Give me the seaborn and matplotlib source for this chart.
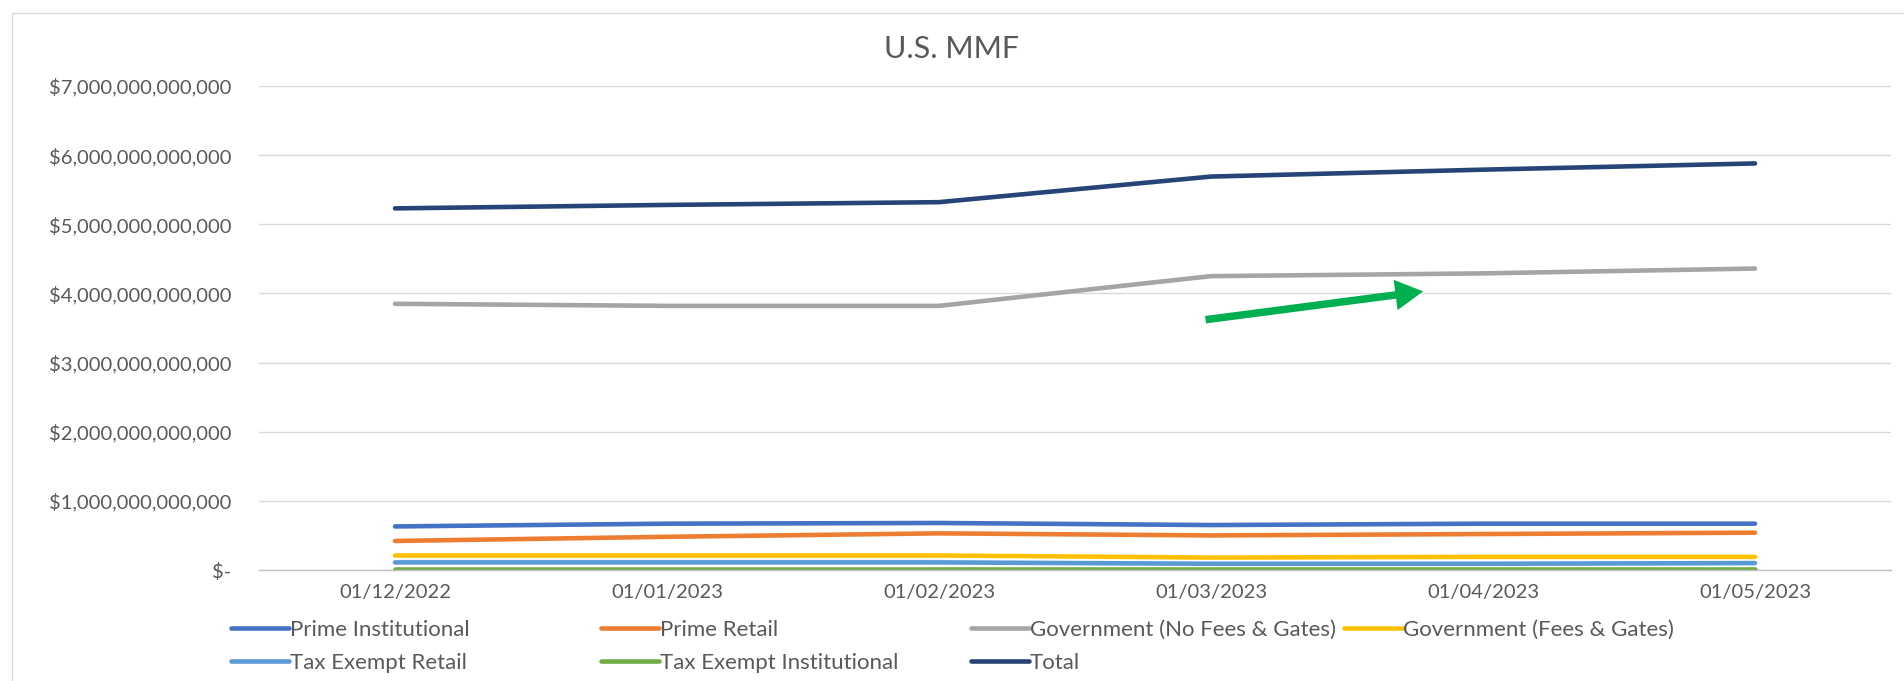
import numpy as np
import pandas as pd
import matplotlib
matplotlib.use("Agg")
import matplotlib.pyplot as plt
from matplotlib.lines import Line2D
from matplotlib.patches import Rectangle
from matplotlib.ticker import FixedLocator, FuncFormatter
import seaborn as sns

dates = ["01/12/2022", "01/01/2023", "01/02/2023", "01/03/2023", "01/04/2023", "01/05/2023"]

# assets in trillions of dollars
prime_inst = [0.63, 0.67, 0.68, 0.65, 0.67, 0.67]
prime_retail = [0.42, 0.48, 0.53, 0.50, 0.52, 0.54]
gov_no_fees = [3.85, 3.82, 3.82, 4.25, 4.29, 4.36]
gov_fees = [0.21, 0.21, 0.21, 0.18, 0.19, 0.19]
tax_ex_retail = [0.11, 0.11, 0.11, 0.09, 0.09, 0.10]
tax_ex_inst = [0.02, 0.02, 0.02, 0.02, 0.02, 0.02]
total = [5.23, 5.28, 5.32, 5.69, 5.79, 5.88]

series_names = ["Prime Institutional", "Prime Retail", "Government (No Fees & Gates)",
                "Government (Fees & Gates)", "Tax Exempt Retail", "Tax Exempt Institutional", "Total"]
series_vals = [prime_inst, prime_retail, gov_no_fees, gov_fees, tax_ex_retail, tax_ex_inst, total]
colors = ["#4472C4", "#ED7D31", "#A5A5A5", "#FFC000", "#5B9BD5", "#70AD47", "#264478"]

# long form table for seaborn
rows = []
for name, vals in zip(series_names, series_vals):
    for i, v in enumerate(vals):
        rows.append({"series": name, "pos": i, "value": v * 1e12})
df = pd.DataFrame(rows)

sns.set_style("white")
plt.rcParams["font.family"] = ["Lato", "DejaVu Sans"]

W, H = 1904, 681
fig = plt.figure(figsize=(W / 100, H / 100), dpi=100)
ax = fig.add_axes([259 / W, 1 - 570 / H, (1891 - 259) / W, (570 - 86) / H])

sns.lineplot(data=df, x="pos", y="value", hue="series", hue_order=series_names,
             palette=dict(zip(series_names, colors)), linewidth=3.3, sort=False,
             legend=False, ax=ax)

ax.set_xlim(-0.5, len(dates) - 0.5)
ax.set_ylim(0, 7e12)
ax.set_xlabel("")
ax.set_ylabel("")

ax.set_xticks(range(len(dates)))
ax.set_xticklabels(dates)
ax.xaxis.set_minor_locator(FixedLocator(np.arange(-0.5, len(dates), 1.0)))
ax.set_yticks(np.arange(0, 7.01e12, 1e12))
ax.yaxis.set_major_formatter(FuncFormatter(lambda v, p: "$-" if v == 0 else f"${v:,.0f}"))

ax.tick_params(axis="x", which="major", length=0, pad=10, labelsize=14.5, labelcolor="#595959")
ax.tick_params(axis="x", which="minor", length=4, width=1, color="#bfbfbf")
ax.tick_params(axis="y", length=0, pad=20, labelsize=14.5, labelcolor="#595959")

ax.grid(axis="y", color="#d9d9d9", linewidth=1)
ax.set_axisbelow(True)
for s in ["top", "right", "left"]:
    ax.spines[s].set_visible(False)
ax.spines["bottom"].set_color("#bfbfbf")
ax.spines["bottom"].set_linewidth(1)

fig.text(951 / W, 1 - 49 / H, "U.S. MMF", ha="center", va="center", fontsize=22, color="#595959")

# green arrow
ax.annotate("", xy=(3.78, 4.03e12), xytext=(2.98, 3.62e12),
            arrowprops=dict(arrowstyle="simple,head_length=1.0,head_width=1.1,tail_width=0.27",
                            mutation_scale=20, color="#00B050", shrinkA=0, shrinkB=0, lw=0))

# legend entries placed like the excel layout
legend_pos = [(231, 630), (601, 630), (971, 630), (1344, 630), (231, 663), (601, 663), (971, 663)]
for name, c, (lx, ly) in zip(series_names, colors, legend_pos):
    h = Line2D([], [], color=c, linewidth=3.3)
    fig.legend([h], [name], loc="center left", bbox_to_anchor=(lx / W, 1 - ly / H),
               frameon=False, borderpad=0, borderaxespad=0, handlelength=2.6,
               handletextpad=0.05, fontsize=16, labelcolor="#595959")

# chart border
fig.add_artist(Rectangle((12 / W, -0.1), 1.2, 1 - 13 / H + 0.1, transform=fig.transFigure,
                         fill=False, edgecolor="#d9d9d9", linewidth=1))

fig.savefig("out.png", dpi=100)
